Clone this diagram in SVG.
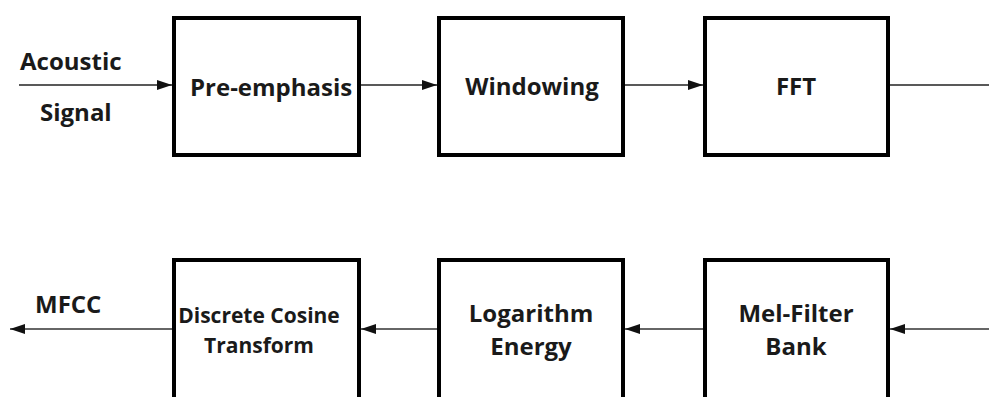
<svg xmlns="http://www.w3.org/2000/svg" width="989" height="397" viewBox="0 0 989 397">
  <defs>
    <marker id="arr" markerUnits="userSpaceOnUse" markerWidth="18" markerHeight="12" refX="15" refY="5" orient="auto">
      <path d="M0,0 L15,5 L0,10 z" fill="#111"/>
    </marker>
    <style>
      .box { fill: #fff; stroke: #000; stroke-width: 4; }
      .lbl { font-family: "Open Sans", "Liberation Sans", sans-serif; font-weight: 700; font-size: 24px; fill: #1a1a1a; }
      .sm { font-size: 21px; }
      .top { stroke: #222; stroke-width: 1.5; fill: none; }
      .bot { stroke: #666; stroke-width: 1.8; fill: none; }
    </style>
  </defs>
  <rect width="989" height="397" fill="#fff"/>

  <g id="connectors">
    <line class="top" x1="19" y1="85" x2="172" y2="85" marker-end="url(#arr)"/>
    <line class="top" x1="361" y1="85" x2="437" y2="85" marker-end="url(#arr)"/>
    <line class="top" x1="625" y1="85" x2="703" y2="85" marker-end="url(#arr)"/>
    <line class="top" x1="890" y1="85" x2="989" y2="85"/>
    <line class="bot" x1="989" y1="329" x2="890" y2="329" marker-end="url(#arr)"/>
    <line class="bot" x1="703" y1="329" x2="625" y2="329" marker-end="url(#arr)"/>
    <line class="bot" x1="437" y1="329" x2="361" y2="329" marker-end="url(#arr)"/>
    <line class="bot" x1="172" y1="329" x2="10" y2="329" marker-end="url(#arr)"/>
  </g>

  <g id="labels">
    <text class="lbl" x="20" y="70">Acoustic</text>
    <text class="lbl" x="40" y="121">Signal</text>
    <text class="lbl" x="35" y="313">MFCC</text>
  </g>

  <g id="pre-emphasis">
    <rect class="box" x="174" y="18" width="185" height="137"/>
    <text class="lbl" x="190" y="96">Pre-emphasis</text>
  </g>
  <g id="windowing">
    <rect class="box" x="439" y="18" width="184" height="137"/>
    <text class="lbl" x="532" y="95" text-anchor="middle">Windowing</text>
  </g>
  <g id="fft">
    <rect class="box" x="705" y="18" width="183" height="137"/>
    <text class="lbl" x="796" y="95" text-anchor="middle">FFT</text>
  </g>
  <g id="dct">
    <rect class="box" x="174" y="260" width="185" height="142"/>
    <text class="lbl sm" x="259" y="323" text-anchor="middle">Discrete Cosine</text>
    <text class="lbl sm" x="259" y="353" text-anchor="middle">Transform</text>
  </g>
  <g id="log-energy">
    <rect class="box" x="439" y="260" width="184" height="142"/>
    <text class="lbl" x="531" y="322" text-anchor="middle">Logarithm</text>
    <text class="lbl" x="531" y="355" text-anchor="middle">Energy</text>
  </g>
  <g id="mel-filter">
    <rect class="box" x="705" y="260" width="183" height="142"/>
    <text class="lbl" x="796" y="322" text-anchor="middle">Mel-Filter</text>
    <text class="lbl" x="796" y="355" text-anchor="middle">Bank</text>
  </g>
</svg>
